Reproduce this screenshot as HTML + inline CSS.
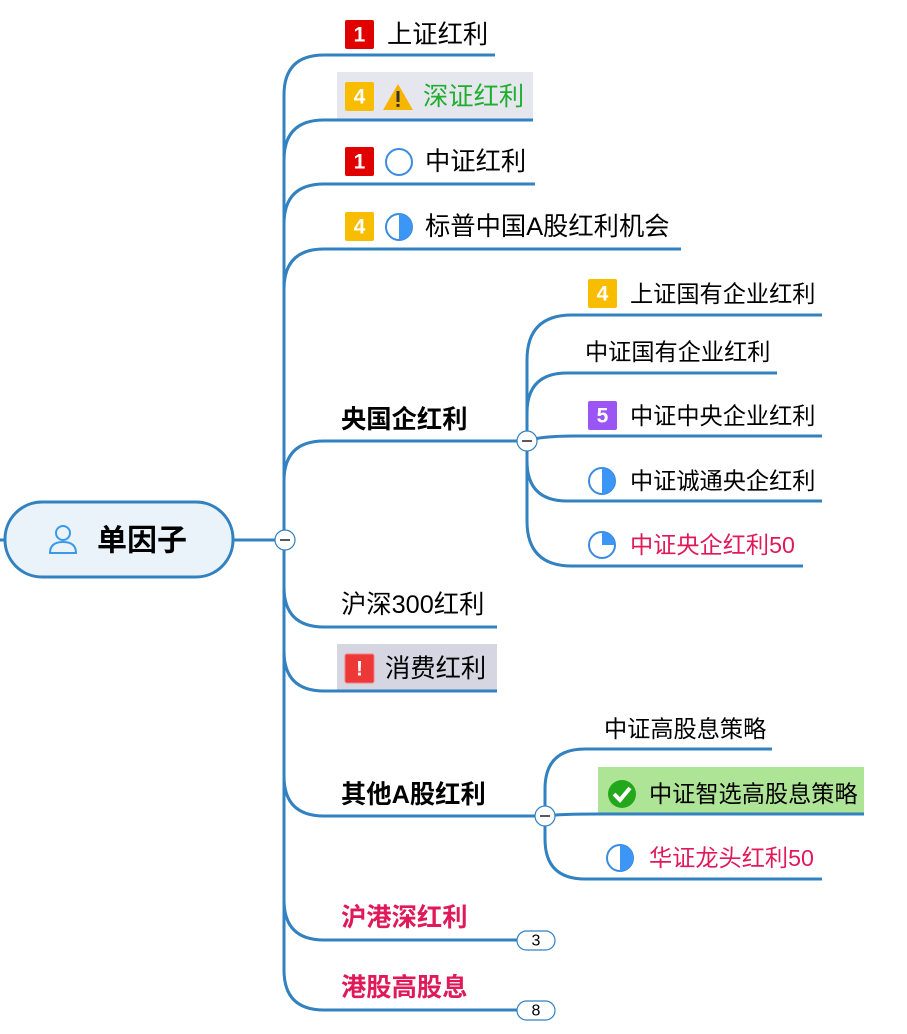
<!DOCTYPE html>
<html><head><meta charset="utf-8"><style>
html,body{margin:0;padding:0;background:#fff;width:907px;height:1034px;overflow:hidden}
text{font-family:"Liberation Sans","Noto Sans CJK SC",sans-serif;dominant-baseline:central}
</style></head><body>
<svg width="907" height="1034" viewBox="0 0 907 1034" xmlns="http://www.w3.org/2000/svg">
<rect x="337" y="72" width="196" height="48" fill="#e6e6ef"/>
<rect x="337" y="644" width="160" height="47" fill="#d5d6e2"/>
<rect x="598" y="767" width="266" height="47" fill="#aee496"/>
<g fill="none" stroke="#3281c0" stroke-width="3">
<path d="M284,540 L284,95 Q284,55 324,55 L495,55"/>
<path d="M284,540 L284,160 Q284,120 324,120 L533,120"/>
<path d="M284,540 L284,224 Q284,184 324,184 L535,184"/>
<path d="M284,540 L284,289 Q284,249 324,249 L681,249"/>
<path d="M284,540 L284,481 Q284,441 324,441 L527,441"/>
<path d="M284,540 L284,587 Q284,627 324,627 L497,627"/>
<path d="M284,540 L284,651 Q284,691 324,691 L497,691"/>
<path d="M284,540 L284,776 Q284,816 324,816 L545,816"/>
<path d="M284,540 L284,900 Q284,940 324,940 L520,940"/>
<path d="M284,540 L284,970 Q284,1010 324,1010 L520,1010"/>
<path d="M233,540 L284,540"/>
<path d="M0,540 L6,540"/>
<path d="M527,441 L527,360 Q527,315 572,315 L822,315"/>
<path d="M527,441 L527,413 Q527,373 567,373 L777,373"/>
<path d="M527,441 Q540,436 575,436 L822,436"/>
<path d="M527,441 L527,461 Q527,501 567,501 L822,501"/>
<path d="M527,441 L527,521 Q527,566 572,566 L803,566"/>
<path d="M545,816 L545,789 Q545,749 585,749 L772,749"/>
<path d="M545,816 Q560,814 598,814 L864,814"/>
<path d="M545,816 L545,839 Q545,879 585,879 L822,879"/>
</g>
<rect x="5" y="502" width="228" height="75" rx="37" fill="#eaf2fa" stroke="#3281c0" stroke-width="3"/>
<g fill="none" stroke="#3b9ae8" stroke-width="2">
<circle cx="63" cy="533" r="7"/>
<path d="M50,553 Q50,542 63,542 Q76,542 76,553 Z"/>
</g>
<text x="97" y="541" font-size="30" font-weight="bold" fill="#000">单因子</text>
<g fill="#fff" stroke="#3281c0" stroke-width="1.2">
<circle cx="285" cy="540" r="10"/>
<circle cx="527" cy="441" r="10"/>
<circle cx="545" cy="816" r="10"/>
<rect x="517" y="931" width="38" height="19" rx="9.5"/>
<rect x="517" y="1001" width="38" height="19" rx="9.5"/>
</g>
<g stroke="#000" stroke-width="1.3"><path d="M280,540 H290"/><path d="M522,441 H532"/><path d="M540,816 H550"/></g>
<text x="536" y="941" font-size="16" fill="#000" text-anchor="middle" font-family="Liberation Serif">3</text>
<text x="536" y="1011" font-size="16" fill="#000" text-anchor="middle">8</text>
<g font-weight="bold" font-size="21" fill="#fff" text-anchor="middle">
<rect x="345" y="20" width="29" height="29" fill="#e00000" rx="2"/><text x="359.5" y="35">1</text>
<rect x="345" y="82" width="29" height="29" fill="#f8bc00" rx="2"/><text x="359.5" y="97">4</text>
<rect x="345" y="147" width="29" height="29" fill="#e00000" rx="2"/><text x="359.5" y="162">1</text>
<rect x="345" y="212" width="29" height="29" fill="#f8bc00" rx="2"/><text x="359.5" y="227">4</text>
<rect x="588" y="279" width="29" height="29" fill="#f8bc00" rx="2"/><text x="602.5" y="294">4</text>
<rect x="588" y="401" width="29" height="29" fill="#9b55f5" rx="2"/><text x="602.5" y="416">5</text>
<rect x="345" y="654" width="29" height="29" fill="#ee3737" stroke="#f58080" rx="2"/><text x="359.5" y="669">!</text>
</g>
<path d="M398,84 L413,110 L383,110 Z" fill="#f7b500"/>
<rect x="396.5" y="91" width="3" height="11" fill="#333"/><rect x="396.5" y="104" width="3" height="3" fill="#333"/>
<g stroke="#3b8be0" stroke-width="2" fill="#fff">
<circle cx="399" cy="162" r="13"/>
<circle cx="399" cy="227" r="13"/>
<circle cx="602" cy="481" r="13"/>
<circle cx="602" cy="545" r="13"/>
<circle cx="620" cy="858" r="13"/>
</g>
<g fill="#3b96f5">
<path d="M399,214 A13,13 0 0 1 399,240 Z"/>
<path d="M602,468 A13,13 0 0 1 602,494 Z"/>
<path d="M602,532 A13,13 0 0 1 615,545 L602,545 Z"/>
<path d="M620,845 A13,13 0 0 1 620,871 Z"/>
</g>
<circle cx="622" cy="794" r="14" fill="#23a81c"/>
<path d="M614,794 L620,800 L630,788" fill="none" stroke="#fff" stroke-width="4"/>
<g font-size="25.3" fill="#000">
<text x="387" y="35">上证红利</text>
<text x="423" y="97" fill="#1fae2d">深证红利</text>
<text x="425" y="162">中证红利</text>
<text x="425" y="227">标普中国A股红利机会</text>
<text x="341" y="605">沪深300红利</text>
<text x="385" y="669">消费红利</text>
<text x="341" y="420" font-weight="bold">央国企红利</text>
<text x="341" y="795" font-weight="bold">其他A股红利</text>
<text x="341" y="918" font-weight="bold" fill="#e0195a">沪港深红利</text>
<text x="341" y="988" font-weight="bold" fill="#e0195a">港股高股息</text>
</g>
<g font-size="23.2" fill="#000">
<text x="630" y="294">上证国有企业红利</text>
<text x="585" y="352">中证国有企业红利</text>
<text x="630" y="416">中证中央企业红利</text>
<text x="630" y="481">中证诚通央企红利</text>
<text x="630" y="545" fill="#e0195a">中证央企红利50</text>
<text x="604" y="729">中证高股息策略</text>
<text x="649" y="794">中证智选高股息策略</text>
<text x="649" y="858" fill="#e0195a">华证龙头红利50</text>
</g>
</svg>
</body></html>
